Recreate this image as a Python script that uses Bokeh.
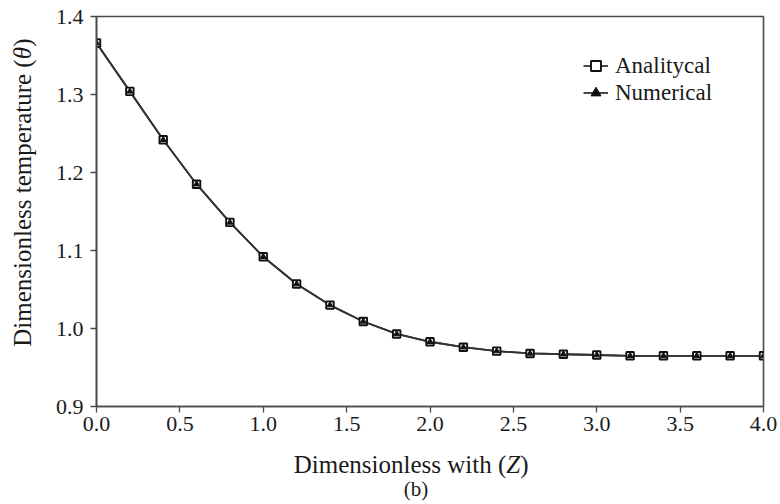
import math

from bokeh.embed import file_html
from bokeh.resources import INLINE
from bokeh.plotting import figure
from bokeh.models import (Range1d, FixedTicker, NumeralTickFormatter, Label,
                          Legend, LegendItem)

# Dimensionless width Z and the two temperature solutions
z = [0.0, 0.2, 0.4, 0.6, 0.8, 1.0, 1.2, 1.4, 1.6, 1.8, 2.0,
     2.2, 2.4, 2.6, 2.8, 3.0, 3.2, 3.4, 3.6, 3.8, 4.0]
theta_analytical = [1.366, 1.304, 1.242, 1.185, 1.136, 1.092, 1.057, 1.030,
                    1.009, 0.993, 0.983, 0.976, 0.971, 0.968, 0.967, 0.966,
                    0.965, 0.965, 0.965, 0.965, 0.965]
theta_numerical = [1.366, 1.304, 1.242, 1.185, 1.136, 1.092, 1.057, 1.030,
                   1.009, 0.993, 0.983, 0.976, 0.971, 0.968, 0.967, 0.966,
                   0.965, 0.965, 0.965, 0.965, 0.965]

x_ticks = [0.0, 0.5, 1.0, 1.5, 2.0, 2.5, 3.0, 3.5, 4.0]
y_ticks = [0.9, 1.0, 1.1, 1.2, 1.3, 1.4]

FONT = "Liberation Serif"
INK = "#1a1a1a"
FRAME = "#4a4a4a"

W, H = 780, 504
LEFT, RIGHT, TOP, BOTTOM = 96, 17, 16, 98

p = figure(width=W, height=H, output_backend="svg", toolbar_location=None,
           x_range=Range1d(0, 4), y_range=Range1d(0.9, 1.4),
           min_border_left=LEFT, min_border_right=RIGHT,
           min_border_top=TOP, min_border_bottom=BOTTOM)
p.background_fill_color = "white"
p.border_fill_color = "white"
p.grid.visible = False
p.outline_line_color = FRAME
p.outline_line_width = 1.6

for ax in (p.xaxis[0], p.yaxis[0]):
    ax.axis_line_color = FRAME
    ax.axis_line_width = 1.6
    ax.major_tick_line_color = FRAME
    ax.major_tick_line_width = 1.3
    ax.major_tick_out = 6
    ax.major_tick_in = 0
    ax.minor_tick_line_color = None
    ax.major_label_text_font = FONT
    ax.major_label_text_font_size = "22px"
    ax.major_label_text_color = INK
    ax.formatter = NumeralTickFormatter(format="0.0")

p.xaxis[0].ticker = FixedTicker(ticks=x_ticks)
p.yaxis[0].ticker = FixedTicker(ticks=y_ticks)
p.xaxis[0].major_label_standoff = 4
p.yaxis[0].major_label_standoff = 7

# Curves: analytical line with open squares, numerical with filled triangles
la = p.line(z, theta_analytical, line_color="#333333", line_width=1.8)
ln = p.line(z, theta_numerical, line_color="#333333", line_width=1.8)
sq = p.scatter(z, theta_analytical, marker="square", size=7.5,
               fill_color="white", line_color="#111111", line_width=1.9)
tr = p.scatter(z, theta_numerical, marker="triangle", size=6,
               fill_color="#111111", line_color="#111111", line_width=1)

legend = Legend(items=[LegendItem(label="Analitycal", renderers=[la, sq]),
                       LegendItem(label="Numerical", renderers=[ln, tr])],
                location=(487, 300), padding=0, margin=0, spacing=0,
                label_text_font=FONT, label_text_font_size="23px",
                label_text_color=INK, label_standoff=7,
                glyph_width=25, glyph_height=27, label_height=27,
                border_line_alpha=0, background_fill_alpha=0)
p.add_layout(legend, "center")

# Axis titles, built from pieces so the symbols can be italic.
# Each piece sits in a side panel (so it is not clipped to the frame);
# the pieces are spread over the panels so that none outgrows its border.
FW = W - LEFT - RIGHT
FH = H - TOP - BOTTOM


def dx(px):
    return (px - LEFT) / FW * 4.0


def dy(py):
    return 0.9 + (TOP + FH - py) / FH * 0.5


def label(side, x, y, text, size, align="left", italic=False, angle=0.0):
    p.add_layout(Label(x=x, y=y, text=text, text_font=FONT,
                       text_font_size=size, text_color=INK,
                       text_font_style="italic" if italic else "normal",
                       text_align=align, text_baseline="alphabetic",
                       angle=angle), side)


# x title: "Dimensionless with (Z)" and the panel tag "(b)"
xb = dy(464)
label("below", dx(505.8), xb, "Dimensionless with (", "25px", align="right")
label("left", dx(505.8), xb, "Z", "25px", italic=True)
label("left", dx(519.7), xb, ")", "25px")
label("below", dx(415.5), dy(488), "(b)", "21px", align="center")

# y title: "Dimensionless temperature (θ)", rotated
yb = dx(22)
label("left", yb, dy(58.8), "Dimensionless temperature (", "25px",
      align="right", angle=math.pi / 2)
label("below", yb, dy(58.8), "θ", "25px", italic=True, angle=math.pi / 2)
label("above", yb, dy(46.3), ")", "25px", angle=math.pi / 2)

open("out.html", "w").write(file_html(p, INLINE))
